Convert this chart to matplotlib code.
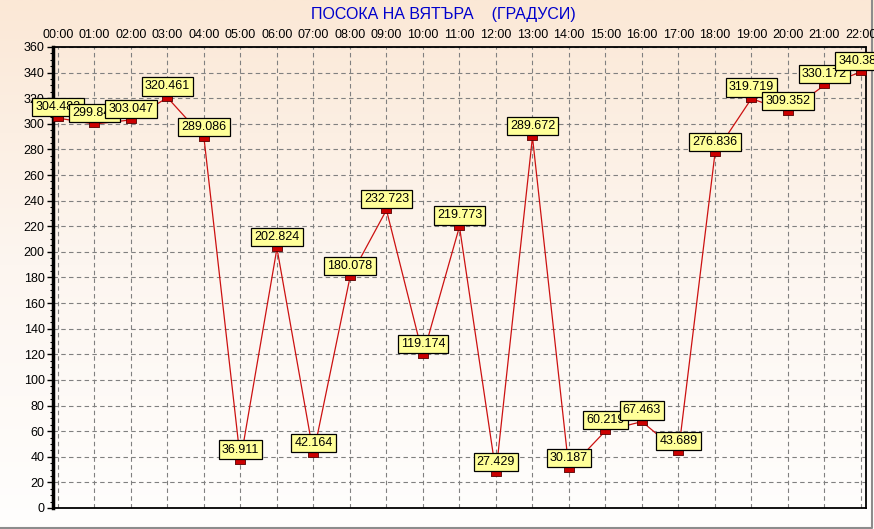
import numpy as np
import matplotlib.pyplot as plt
from matplotlib.colors import LinearSegmentedColormap

plt.rcParams['font.family'] = ['Liberation Sans', 'DejaVu Sans']

# Datos
horas = ['00:00', '01:00', '02:00', '03:00', '04:00', '05:00', '06:00', '07:00',
         '08:00', '09:00', '10:00', '11:00', '12:00', '13:00', '14:00', '15:00',
         '16:00', '17:00', '18:00', '19:00', '20:00', '21:00', '22:00']
grados = [304.482, 299.845, 303.047, 320.461, 289.086, 36.911, 202.824, 42.164,
          180.078, 232.723, 119.174, 219.773, 27.429, 289.672, 30.187, 60.219,
          67.463, 43.689, 276.836, 319.719, 309.352, 330.172, 340.383]
y_ticks = list(range(0, 361, 20))

fig = plt.figure(figsize=(8.74, 5.29), dpi=100)

# fondo degradado
bg = fig.add_axes([0, 0, 1, 1], zorder=-10)
cmap = LinearSegmentedColormap.from_list('fondo', ['#fffefd', '#fdf6f0', '#fbe8d6'])
bg.imshow(np.linspace(0, 1, 256).reshape(-1, 1), aspect='auto', cmap=cmap,
          origin='lower', extent=[0, 1, 0, 1])
bg.set_xlim(0, 1)
bg.set_ylim(0, 1)
bg.plot([0, 0.9975, 0.9975], [0.0025, 0.0025, 1], color='#8c8c8c', lw=1.5)
bg.axis('off')

ax = fig.add_axes([0.0606, 0.0397, 0.9302, 0.8715])
ax.patch.set_alpha(0)

x = np.arange(len(horas))
rect = [(-1, -0.55), (1, -0.55), (1, 0.55), (-1, 0.55), (-1, -0.55)]
ax.plot(x, grados, color='#cc1111', lw=0.9, zorder=3)
ax.plot(x, grados, ls='none', marker=rect, markersize=7, markerfacecolor='#cc0000',
        markeredgecolor='#550000', markeredgewidth=0.6, zorder=4)

for i, v in enumerate(grados):
    ax.annotate(f'{v:.3f}', (x[i], v), xytext=(0, 8), textcoords='offset points',
                ha='center', va='center', fontsize=9, zorder=5 + i,
                annotation_clip=False,
                bbox=dict(boxstyle='square,pad=0.25', fc='#ffff99', ec='black', lw=0.9))

ax.set_xlim(-0.137, 22.137)
ax.set_ylim(0, 360)
ax.set_xticks(x)
ax.set_xticklabels(horas)
ax.xaxis.tick_top()
ax.tick_params(axis='x', length=0, pad=4, labelsize=9)
ax.set_yticks(y_ticks)
ax.set_yticks(np.arange(0, 361, 5), minor=True)
ax.tick_params(axis='y', which='major', length=4, width=1, labelsize=9, pad=2)
ax.tick_params(axis='y', which='minor', length=2, width=0.8)

ax.grid(True, color='#808080', ls=(0, (4, 3)), lw=0.8)
ax.set_axisbelow(True)

ax.spines['left'].set_linewidth(2.5)
for lado in ['top', 'right', 'bottom']:
    ax.spines[lado].set_linestyle((0, (3, 1)))
    ax.spines[lado].set_linewidth(1.3)

fig.text(0.507, 0.972, 'ПОСОКА НА ВЯТЪРА    (ГРАДУСИ)', color='#0000cc',
         fontsize=11.5, ha='center', va='center')

plt.savefig('out.png', dpi=100)
